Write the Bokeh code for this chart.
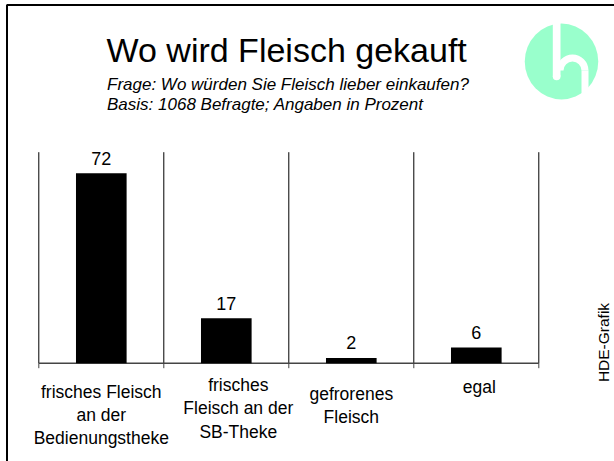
import numpy as np
from bokeh.plotting import figure
from bokeh.models import Range1d, ColumnDataSource
from bokeh.core.properties import value
from bokeh.embed import file_html
from bokeh.resources import INLINE

# ---------------- data ----------------
title = "Wo wird Fleisch gekauft"
subtitle_lines = ["Frage: Wo würden Sie Fleisch lieber  einkaufen?",
                  "Basis: 1068 Befragte; Angaben in Prozent"]
categories = ["frisches Fleisch an der Bedienungstheke",
              "frisches Fleisch an der SB-Theke",
              "gefrorenes Fleisch",
              "egal"]
category_lines = [["frisches Fleisch", "an der", "Bedienungstheke"],
                  ["frisches", "Fleisch an der", "SB-Theke"],
                  ["gefrorenes", "Fleisch"],
                  ["egal"]]
values = [72, 17, 2, 6]
y_max = 80
source_note = "HDE-Grafik"

# ---------------- layout (pixels) ----------------
W, H = 614, 461
PLOT_LEFT, PLOT_RIGHT = 38.3, 538.3
PLOT_TOP, PLOT_BOTTOM = 151.7, 362.7
FONT = value("Liberation Sans")
label_first_baseline = [391, 384.5, 393, 386.5]
label_dx = [0, 12, 0, 3]
LINE_STEP = 23.4

n = len(categories)
cw = (PLOT_RIGHT - PLOT_LEFT) / n
ppu = (PLOT_BOTTOM - PLOT_TOP) / y_max

p = figure(width=W, height=H,
           x_range=Range1d(-PLOT_LEFT / cw, (W - PLOT_LEFT) / cw),
           y_range=Range1d(-(H - PLOT_BOTTOM) / ppu, PLOT_BOTTOM / ppu),
           output_backend="svg", toolbar_location=None, min_border=0,
           x_axis_location=None, y_axis_location=None,
           outline_line_color=None, background_fill_color="white",
           border_fill_color="white")
for g in p.grid:
    g.visible = False
p.extra_x_ranges = {"px": Range1d(0, W)}
p.extra_y_ranges = {"py": Range1d(H, 0)}

centers = np.arange(n) + 0.5
bounds = np.arange(n + 1)

# vertical separators
p.segment(x0=bounds, y0=0, x1=bounds, y1=y_max, line_color="black", line_width=1)
# baseline
p.segment(x0=[0], y0=[0], x1=[n], y1=[0], line_color="#444444", line_width=1.5)
# ticks below baseline
p.ray(x=bounds, y=0, length=5, length_units="screen", angle=-np.pi / 2,
      line_color="#444444", line_width=1)

# bars
src = ColumnDataSource(dict(x=centers, top=values, lbl=[str(v) for v in values]))
p.vbar(x="x", top="top", bottom=0, width=0.405, source=src,
       fill_color="black", line_color=None)
p.text(x="x", y="top", text="lbl", source=src, text_align="center",
       text_baseline="alphabetic", y_offset=-15, text_font=FONT,
       text_font_size="18px", text_color="black")

# category labels
lx, ly, lt, ldx = [], [], [], []
for i, lines in enumerate(category_lines):
    for j, t in enumerate(lines):
        lx.append(centers[i])
        ly.append(label_first_baseline[i] + j * LINE_STEP)
        lt.append(t)
        ldx.append(label_dx[i])
lsrc = ColumnDataSource(dict(x=lx, y=ly, text=lt, dx=ldx))
p.text(x="x", y="y", text="text", x_offset="dx", source=lsrc, y_range_name="py",
       text_align="center", text_baseline="alphabetic", text_font=FONT,
       text_font_size="17.5px", text_color="black")

# title & subtitle
p.text(x=[106], y=[49], text=[title], x_range_name="px", y_range_name="py",
       text_font=FONT, text_font_size="34px", text_baseline="alphabetic",
       text_color="black")
p.text(x=[106.5, 106.5], y=[84, 103.5], text=subtitle_lines,
       x_range_name="px", y_range_name="py", text_font=FONT,
       text_font_style="italic", text_font_size="17px",
       text_baseline="alphabetic", text_color="black")

# source note
p.text(x=[603], y=[342], text=[source_note], angle=np.pi / 2,
       x_range_name="px", y_range_name="py", text_align="center",
       text_baseline="middle", text_font=FONT, text_font_size="15.5px",
       text_color="black")

# logo
MINT = "#99FFCC"
p.ellipse(x=[561], y=[61], width=[73.5], height=[76], x_range_name="px",
          y_range_name="py", fill_color=MINT, line_color=None)
p.quad(left=[552.3], right=[560], top=[20], bottom=[76], x_range_name="px",
       y_range_name="py", fill_color="white", line_color=None)
p.circle(x=[556.15], y=[76], radius=3.85, x_range_name="px", y_range_name="py",
         fill_color="white", line_color=None)
p.annular_wedge(x=[572], y=[70], inner_radius=9, outer_radius=16,
                start_angle=0, end_angle=np.pi, x_range_name="px",
                y_range_name="py", fill_color="white", line_color=None)
p.quad(left=[581], right=[588], top=[70], bottom=[102], x_range_name="px",
       y_range_name="py", fill_color="white", line_color=None)

# frame lines
p.line(x=[6.5, 6.5, W], y=[H, 4.5, 4.5], x_range_name="px", y_range_name="py",
       line_color="black", line_width=2)

open("out.html", "w").write(file_html(p, INLINE))
